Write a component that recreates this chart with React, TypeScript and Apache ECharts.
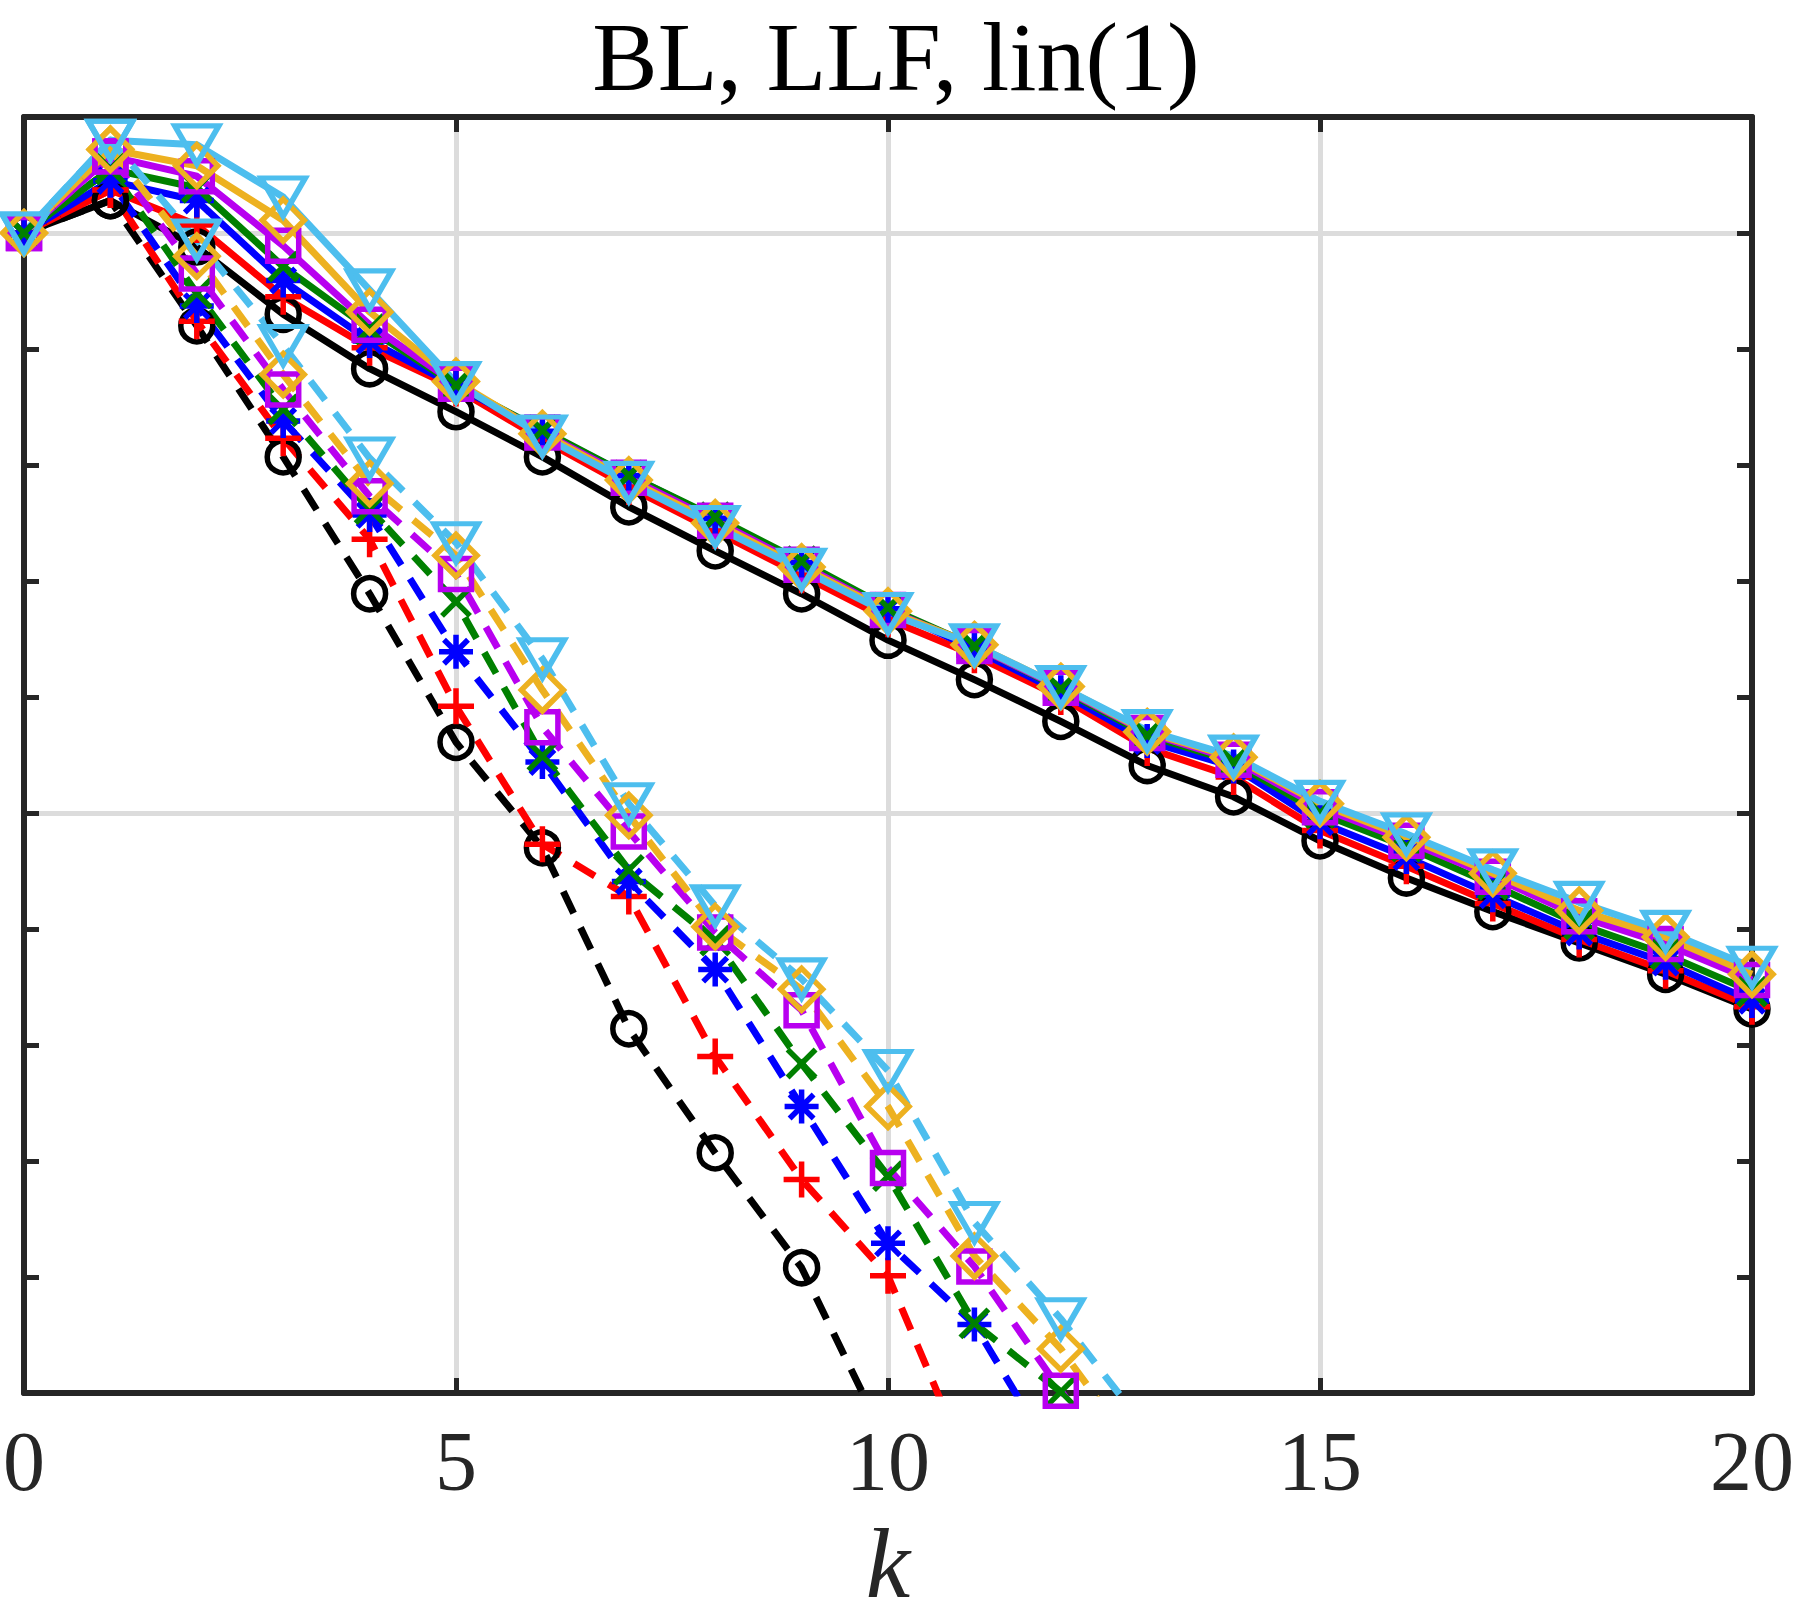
import React, { useEffect, useRef } from "react";
import * as echarts from "echarts";

// ---- data (y values are log10 of the plotted quantity) ----
const K = [0, 1, 2, 3, 4, 5, 6, 7, 8, 9, 10, 11, 12, 13, 14, 15, 16, 17, 18, 19, 20];
const X_TICKS = [0, 5, 10, 15, 20];

// solid curves
const blackSolid = [0, 0.28, -0.12, -0.7, -1.17, -1.54, -1.93, -2.36, -2.74, -3.11, -3.51, -3.85, -4.21, -4.59, -4.86, -5.24, -5.56, -5.85, -6.12, -6.39, -6.69];
const redSolid = [0, 0.37, 0.07, -0.55, -0.99, -1.34, -1.78, -2.19, -2.57, -2.95, -3.33, -3.64, -4.0, -4.44, -4.69, -5.15, -5.46, -5.78, -6.09, -6.36, -6.67];
const blueSolid = [0, 0.45, 0.28, -0.41, -0.93, -1.32, -1.71, -2.09, -2.46, -2.84, -3.24, -3.59, -3.96, -4.38, -4.6, -5.08, -5.38, -5.71, -6.03, -6.29, -6.62];
const greenSolid = [0, 0.55, 0.39, -0.29, -0.83, -1.31, -1.7, -2.09, -2.45, -2.83, -3.23, -3.56, -3.93, -4.33, -4.56, -5.0, -5.29, -5.62, -5.96, -6.22, -6.54];
const purpleSolid = [0, 0.66, 0.49, -0.11, -0.79, -1.3, -1.72, -2.11, -2.48, -2.86, -3.25, -3.56, -3.92, -4.31, -4.54, -4.95, -5.24, -5.55, -5.89, -6.13, -6.44];
const orangeSolid = [0, 0.72, 0.58, 0.11, -0.68, -1.28, -1.73, -2.13, -2.5, -2.88, -3.26, -3.55, -3.91, -4.3, -4.52, -4.92, -5.21, -5.52, -5.84, -6.07, -6.39];
const skySolid = [0, 0.8, 0.76, 0.31, -0.49, -1.29, -1.75, -2.15, -2.53, -2.9, -3.28, -3.55, -3.91, -4.29, -4.51, -4.9, -5.18, -5.49, -5.77, -6.02, -6.33];

// dashed curves (they leave the axes at the bottom)
const blackDashed = [0, 0.28, -0.8, -1.93, -3.11, -4.39, -5.3, -6.86, -7.93, -8.92, -10.45];
const redDashed = [0, 0.37, -0.76, -1.77, -2.64, -4.08, -5.27, -5.72, -7.1, -8.16, -8.99, -10.75];
const blueDashed = [0, 0.45, -0.63, -1.62, -2.43, -3.61, -4.56, -5.59, -6.35, -7.53, -8.71, -9.41, -10.65];
const greenDashed = [0, 0.55, -0.52, -1.52, -2.38, -3.18, -4.51, -5.49, -6.1, -7.16, -8.13, -9.4, -9.99, -11.0];
const purpleDashed = [0, 0.66, -0.35, -1.35, -2.27, -2.94, -4.26, -5.16, -6.03, -6.7, -8.06, -8.91, -9.98, -11.0];
const orangeDashed = [0, 0.72, -0.2, -1.22, -2.16, -2.78, -3.94, -5.02, -5.98, -6.52, -7.53, -8.82, -9.62, -10.64];
const skyDashed = [0, 0.8, -0.06, -0.97, -1.94, -2.67, -3.67, -4.92, -5.8, -6.43, -7.22, -8.53, -9.36, -10.32];

const TITLE = "BL, LLF, lin(1)";
const X_NAME = "k";

const PLUS = "path://M16,0L16,32M0,16L32,16";
const CROSS = "path://M0,0L32,32M32,0L0,32";
const STAR = "path://M16,0L16,32M0,16L32,16M4.7,4.7L27.3,27.3M27.3,4.7L4.7,27.3";

type Style = { color: string; symbol: string; size: number | number[]; rotate?: number };

const STYLES: Style[] = [
  { color: "#000000", symbol: "circle", size: 32 },
  { color: "#FF0000", symbol: PLUS, size: 36 },
  { color: "#0000FF", symbol: STAR, size: 34 },
  { color: "#008000", symbol: CROSS, size: 28 },
  { color: "#B800F0", symbol: "rect", size: 31 },
  { color: "#EDB120", symbol: "diamond", size: [42, 42] },
  { color: "#4DBEEE", symbol: "triangle", size: [44, 38], rotate: 180 },
];

const SOLID = [blackSolid, redSolid, blueSolid, greenSolid, purpleSolid, orangeSolid, skySolid];
const DASHED = [blackDashed, redDashed, blueDashed, greenDashed, purpleDashed, orangeDashed, skyDashed];

const AXIS_COLOR = "#262626";
const GRID_COLOR = "#DCDCDC";
const FONT = "'Liberation Serif', 'Times New Roman', serif";

function makeSeries(vals: number[], st: Style, dashed: boolean) {
  return {
    type: "line",
    data: vals.map((v, i) => [K[i], v]),
    symbol: st.symbol,
    symbolSize: st.size,
    symbolRotate: st.rotate || 0,
    lineStyle: { color: st.color, width: 7, type: dashed ? [24, 16] : "solid", join: "round" },
    itemStyle: { color: "rgba(0,0,0,0)", borderColor: st.color, borderWidth: 5.5 },
    silent: true,
    clip: true,
    z: 3,
  };
}

export default function App() {
  const ref = useRef<HTMLDivElement>(null);
  useEffect(() => {
    document.body.style.margin = "0";
    if (!ref.current) return;
    const chart = echarts.init(ref.current, undefined, { renderer: "svg" });
    const border = { show: true, onZero: false, lineStyle: { color: AXIS_COLOR, width: 6 } };
    const tick = { show: true, inside: true, length: 15, lineStyle: { color: AXIS_COLOR, width: 5 } };
    const series: any[] = [];
    SOLID.forEach((vals, i) => series.push(makeSeries(vals, STYLES[i], false)));
    DASHED.forEach((vals, i) => series.push(makeSeries(vals, STYLES[i], true)));
    chart.setOption({
      animation: false,
      title: {
        text: TITLE,
        left: 891,
        top: 0,
        textAlign: "center",
        textStyle: { fontFamily: FONT, fontSize: 98, lineHeight: 104, fontWeight: "normal", color: "#000" },
      },
      grid: { left: 24, right: 39, top: 117, bottom: 211, containLabel: false },
      xAxis: [
        {
          type: "value", min: X_TICKS[0], max: X_TICKS[X_TICKS.length - 1], interval: 5, position: "bottom", z: 1,
          axisLine: border, axisTick: tick,
          axisLabel: { show: true, margin: 26, fontFamily: FONT, fontSize: 84, color: AXIS_COLOR },
          splitLine: { show: false },
          name: X_NAME, nameLocation: "middle", nameGap: 130,
          nameTextStyle: { fontFamily: FONT, fontStyle: "italic", fontSize: 100, lineHeight: 80, color: AXIS_COLOR },
        },
        {
          type: "value", min: 0, max: 20, interval: 5, position: "top", z: 1,
          axisLine: border, axisTick: tick, axisLabel: { show: false }, splitLine: { show: false },
        },
        {
          type: "value", min: 0, max: 20, interval: 5, position: "bottom", z: 0,
          axisLine: { show: false }, axisTick: { show: false }, axisLabel: { show: false },
          splitLine: { show: true, lineStyle: { color: GRID_COLOR, width: 5 } },
        },
      ],
      yAxis: [
        {
          type: "value", min: -10, max: 1, interval: 1, position: "left", z: 1,
          axisLine: border, axisTick: tick, axisLabel: { show: false }, splitLine: { show: false },
        },
        {
          type: "value", min: -10, max: 1, interval: 1, position: "right", z: 1,
          axisLine: border, axisTick: tick, axisLabel: { show: false }, splitLine: { show: false },
        },
        {
          type: "value", min: -10, max: 1, interval: 5, position: "left", z: 0,
          axisLine: { show: false }, axisTick: { show: false }, axisLabel: { show: false },
          splitLine: { show: true, lineStyle: { color: GRID_COLOR, width: 5 } },
        },
      ],
      series,
    });
    return () => chart.dispose();
  }, []);
  return <div ref={ref} style={{ width: 1797, height: 1618 }} />;
}
